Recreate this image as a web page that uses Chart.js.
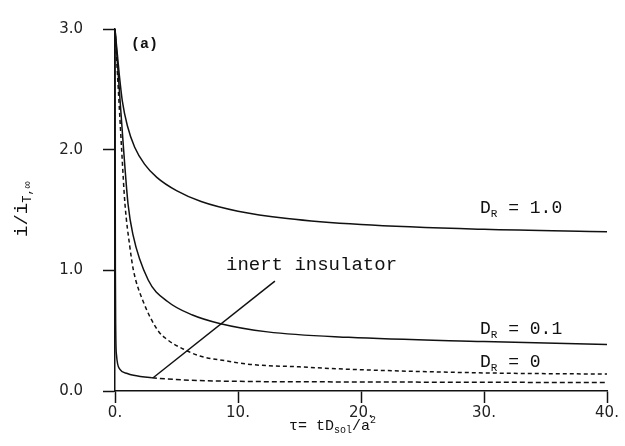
<!DOCTYPE html>
<html>
<head>
<meta charset="utf-8">
<script src="https://cdn.jsdelivr.net/npm/chart.js@4/dist/chart.umd.min.js"></script>
<style>
  body { margin: 0; background: #fff; }
  #wrap { width: 625px; height: 446px; position: relative; }
</style>
</head>
<body>
<div id="wrap"><canvas id="chart"></canvas></div>
<script>
// values (tau, i/i_T,inf)
const tauDR1 = [0, 0.35, 0.6, 1.0, 1.6, 2.4, 3.4, 5, 7, 10, 14, 20, 30, 40];
const valDR1 = [3.0, 2.62, 2.4, 2.2, 2.02, 1.88, 1.77, 1.66, 1.57, 1.49, 1.43, 1.38, 1.34, 1.32];

const tauDR01 = [0, 0.35, 0.7, 1.06, 1.45, 2.7, 4.3, 6.3, 8.5, 12.4, 19, 30, 40];
const valDR01 = [3.0, 2.5, 2.0, 1.55, 1.3, 0.92, 0.74, 0.63, 0.56, 0.49, 0.445, 0.41, 0.385];

const tauDR0 = [0, 0.27, 0.54, 0.81, 1.2, 1.5, 2.3, 3.5, 4.2, 5.5, 6.9, 9, 11, 15, 19, 30, 40];
const valDR0 = [3.0, 2.5, 2.0, 1.55, 1.2, 1.0, 0.74, 0.5, 0.43, 0.35, 0.29, 0.25, 0.22, 0.2, 0.18, 0.15, 0.14];

const tauInert = [0, 0.03, 0.06, 0.12, 0.4, 1, 1.5, 3, 6, 10, 20, 40];
const valInert = [3.0, 1.0, 0.5, 0.3, 0.18, 0.145, 0.13, 0.11, 0.09, 0.08, 0.075, 0.07];

const xTicks = [0, 10, 20, 30, 40];
const yTicks = [0, 1, 2, 3];

// leader line for "inert insulator" (data space)
const leaderFrom = { x: 3.1, y: 0.11 };
const leaderTo = { x: 13, y: 0.91 };

const toXY = (xs, ys) => xs.map((x, i) => ({ x: x, y: ys[i] }));

const mono = "'Liberation Mono', 'DejaVu Sans Mono', monospace";

function textWithSub(ctx, x, y, main, sub, size, subSize, subDy) {
    ctx.font = size + 'px ' + mono;
    ctx.fillText(main, x, y);
    x += ctx.measureText(main).width;
    ctx.font = subSize + 'px ' + mono;
    ctx.fillText(sub, x, y + subDy);
    return x + ctx.measureText(sub).width;
}

const labelsPlugin = {
    id: 'labels',
    afterDraw(chart) {
        const ctx = chart.ctx;
        const xs = chart.scales.x, ys = chart.scales.y;
        ctx.save();
        ctx.fillStyle = '#111';
        ctx.strokeStyle = '#111';
        ctx.textBaseline = 'alphabetic';
        ctx.textAlign = 'left';

        // leader line
        ctx.lineWidth = 1.5;
        ctx.beginPath();
        ctx.moveTo(xs.getPixelForValue(leaderFrom.x), ys.getPixelForValue(leaderFrom.y));
        ctx.lineTo(xs.getPixelForValue(leaderTo.x), ys.getPixelForValue(leaderTo.y));
        ctx.stroke();

        ctx.font = '19px ' + mono;
        ctx.fillText('inert insulator', 226, 270);

        // curve labels
        const drLabels = [['1.0', 213], ['0.1', 334], ['0', 367]];
        drLabels.forEach(([v, y]) => {
            let x = textWithSub(ctx, 480, y, 'D', 'R', 18, 11, 4);
            ctx.font = '18px ' + mono;
            ctx.fillText(' = ' + v, x, y);
        });

        ctx.font = 'bold 15px ' + mono;
        ctx.fillText('(a)', 131, 48);

        // x title
        let x = 289;
        ctx.font = '15px ' + mono;
        ctx.fillText('τ= tD', x, 430);
        x += ctx.measureText('τ= tD').width;
        ctx.font = '10px ' + mono;
        ctx.fillText('sol', x, 433);
        x += ctx.measureText('sol').width;
        ctx.font = '15px ' + mono;
        ctx.fillText('/a', x, 430);
        x += ctx.measureText('/a').width;
        ctx.font = '10px ' + mono;
        ctx.fillText('2', x, 423);

        // y title (rotated)
        ctx.translate(27, 237);
        ctx.rotate(-Math.PI / 2);
        textWithSub(ctx, 0, 0, 'i/i', 'T,∞', 19, 12, 4);
        ctx.restore();
    }
};

const lineBase = { borderColor: '#111', borderWidth: 1.5, pointRadius: 0, fill: false, cubicInterpolationMode: 'monotone' };

new Chart(document.getElementById('chart'), {
    type: 'line',
    data: {
        datasets: [
            Object.assign({ label: 'D_R = 1.0', data: toXY(tauDR1, valDR1) }, lineBase),
            Object.assign({ label: 'D_R = 0.1', data: toXY(tauDR01, valDR01) }, lineBase),
            Object.assign({ label: 'D_R = 0', data: toXY(tauDR0, valDR0), borderDash: [4, 3] }, lineBase),
            Object.assign({
                label: 'inert insulator', data: toXY(tauInert, valInert),
                segment: { borderDash: c => c.p0.parsed.x >= 3 ? [5, 3] : undefined }
            }, lineBase)
        ]
    },
    options: {
        responsive: true,
        maintainAspectRatio: false,
        animation: false,
        layout: { padding: { left: 0, right: 18, top: 20, bottom: 0 } },
        plugins: { legend: { display: false }, tooltip: { enabled: false } },
        scales: {
            x: {
                type: 'linear', min: 0, max: 40,
                afterFit: s => { s.height = 55; },
                afterBuildTicks: s => { s.ticks = xTicks.map(v => ({ value: v })); },
                ticks: { callback: v => v + '.', color: '#222', padding: 1, maxRotation: 0,
                         font: { family: "'DejaVu Sans'", size: 15 } },
                grid: { drawOnChartArea: false, drawTicks: true, tickLength: 12, tickColor: '#111', tickWidth: 1.5 },
                border: { display: true, color: '#111', width: 1.5 }
            },
            y: {
                type: 'linear', min: 0, max: 3,
                afterFit: s => { s.width = 115; },
                afterBuildTicks: s => { s.ticks = yTicks.map(v => ({ value: v })); },
                ticks: { callback: v => v.toFixed(1), color: '#222', padding: 20,
                         font: { family: "'DejaVu Sans'", size: 15 } },
                grid: { drawOnChartArea: false, drawTicks: true, tickLength: 12, tickColor: '#111', tickWidth: 1.5 },
                border: { display: true, color: '#111', width: 1.5 }
            }
        }
    },
    plugins: [labelsPlugin]
});
</script>
</body>
</html>
